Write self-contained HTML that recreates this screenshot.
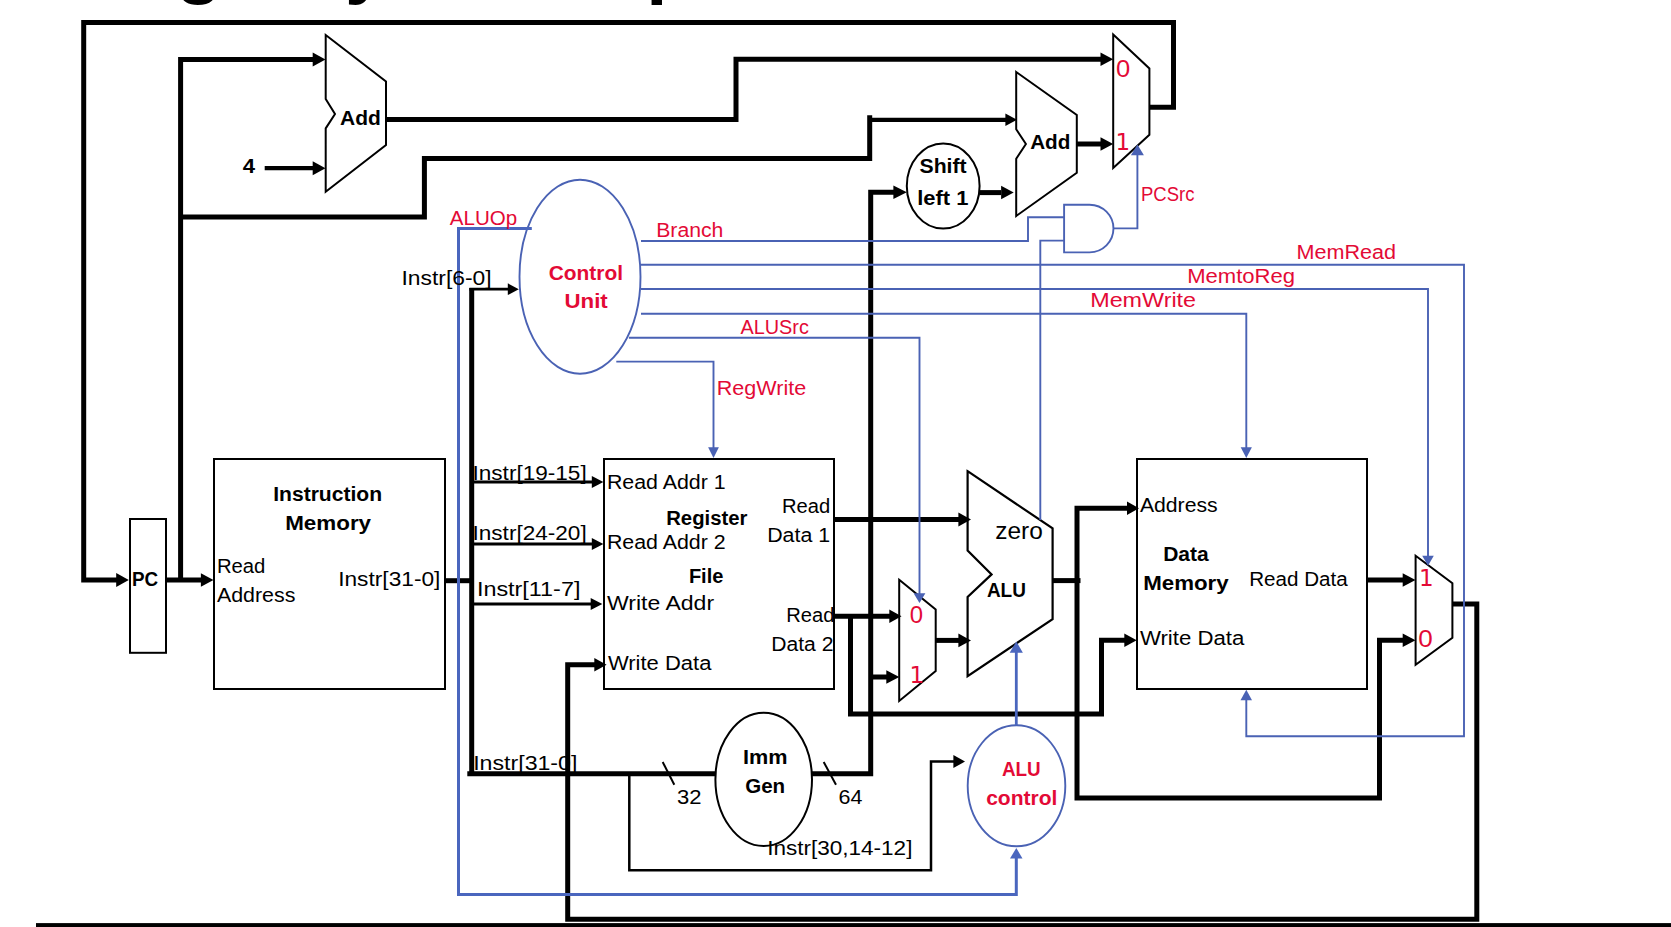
<!DOCTYPE html>
<html lang="en"><head><meta charset="utf-8"><title>Single Cycle Datapath</title>
<style>
html,body{margin:0;padding:0;background:#fff;}
body{width:1671px;height:927px;overflow:hidden;}
svg{display:block;font-family:"Liberation Sans",sans-serif;}
</style></head><body>
<svg width="1671" height="927" viewBox="0 0 1671 927">
<rect width="1671" height="927" fill="#fff"/>
<rect x="130.0" y="519.0" width="36.0" height="133.8" fill="#fff" stroke="#000" stroke-width="2"/>
<rect x="214.0" y="459.0" width="231.0" height="230.0" fill="#fff" stroke="#000" stroke-width="2"/>
<rect x="604.0" y="459.0" width="230.0" height="230.0" fill="#fff" stroke="#000" stroke-width="2"/>
<rect x="1137.0" y="459.0" width="230.0" height="230.0" fill="#fff" stroke="#000" stroke-width="2"/>
<polygon points="325.7,35.0 386.0,81.4 386.0,145.0 325.7,191.7 325.7,128.4 335.0,114.0 325.7,98.9" fill="#fff" stroke="#000" stroke-width="2.0" stroke-linejoin="miter"/>
<polygon points="1016.2,72.0 1076.8,115.0 1076.8,172.8 1016.2,216.0 1016.2,158.7 1025.9,144.0 1016.2,129.2" fill="#fff" stroke="#000" stroke-width="2.0" stroke-linejoin="miter"/>
<polygon points="967.6,471.2 1052.6,528.4 1052.6,619.1 967.6,676.2 967.6,597.0 991.6,574.4 967.6,550.6" fill="#fff" stroke="#000" stroke-width="2.2" stroke-linejoin="miter"/>
<polygon points="1113.2,34.5 1149.4,68.4 1149.4,134.8 1113.2,168.0" fill="#fff" stroke="#000" stroke-width="2.0" stroke-linejoin="miter"/>
<polygon points="899.2,579.8 935.7,609.5 935.7,671.0 899.2,701.0" fill="#fff" stroke="#000" stroke-width="2.0" stroke-linejoin="miter"/>
<polygon points="1415.6,555.8 1452.4,583.3 1452.4,637.7 1415.6,664.7" fill="#fff" stroke="#000" stroke-width="2.0" stroke-linejoin="miter"/>
<ellipse cx="943.2" cy="186.0" rx="36.4" ry="42.6" fill="#fff" stroke="#000" stroke-width="2.0"/>
<ellipse cx="763.7" cy="779.4" rx="48.3" ry="66.6" fill="#fff" stroke="#000" stroke-width="2.0"/>
<ellipse cx="580.0" cy="276.7" rx="60.5" ry="97.0" fill="#fff" stroke="#4A62B4" stroke-width="1.9"/>
<ellipse cx="1016.5" cy="785.8" rx="48.8" ry="60.5" fill="#fff" stroke="#4A62B4" stroke-width="1.9"/>
<path d="M1064.1,204.7 H1089.6 A23.85,23.85 0 0 1 1089.6,252.4 H1064.1 Z" fill="#fff" stroke="#4A62B4" stroke-width="1.9"/>
<polyline points="1149.5,107.3 1173.5,107.3 1173.5,22.5 83.7,22.5 83.7,580.0 117.0,580.0" fill="none" stroke="#000" stroke-width="5" />
<polygon points="128.8,580.0 116.2,573.1 116.2,586.9" fill="#000"/>
<polyline points="166.0,580.0 202.0,580.0" fill="none" stroke="#000" stroke-width="5" />
<polygon points="213.5,580.0 200.9,573.3 200.9,586.7" fill="#000"/>
<polyline points="180.6,580.0 180.6,59.5 313.0,59.5" fill="none" stroke="#000" stroke-width="5" />
<polygon points="325.5,59.5 312.7,52.5 312.7,66.5" fill="#000"/>
<polyline points="180.6,217.1 424.4,217.1 424.4,158.4 869.7,158.4 869.7,115.2" fill="none" stroke="#000" stroke-width="5" />
<polyline points="869.7,119.8 1006.0,119.8" fill="none" stroke="#000" stroke-width="4.2" />
<polygon points="1017.0,119.8 1005.4,113.5 1005.4,126.1" fill="#000"/>
<polyline points="264.7,168.2 313.0,168.2" fill="none" stroke="#000" stroke-width="4.2" />
<polygon points="325.5,168.2 312.7,161.2 312.7,175.2" fill="#000"/>
<polyline points="386.0,119.6 736.0,119.6 736.0,59.2 1101.0,59.2" fill="none" stroke="#000" stroke-width="5" />
<polygon points="1113.2,59.2 1100.5,52.5 1100.5,66.0" fill="#000"/>
<polyline points="1077.0,144.0 1101.0,144.0" fill="none" stroke="#000" stroke-width="5" />
<polygon points="1113.2,144.0 1100.5,137.2 1100.5,150.8" fill="#000"/>
<polyline points="812.0,773.7 870.7,773.7 870.7,192.3 894.0,192.3" fill="none" stroke="#000" stroke-width="5" />
<polygon points="906.8,192.3 893.4,185.6 893.4,199.1" fill="#000"/>
<polyline points="979.6,192.6 1001.0,192.6" fill="none" stroke="#000" stroke-width="5" />
<polygon points="1013.7,192.6 1001.1,185.8 1001.1,199.3" fill="#000"/>
<polyline points="445.7,580.7 471.7,580.7" fill="none" stroke="#000" stroke-width="5" />
<polyline points="471.7,288.0 471.7,776.0" fill="none" stroke="#000" stroke-width="5" />
<polyline points="467.3,773.7 715.3,773.7" fill="none" stroke="#000" stroke-width="5" />
<polyline points="469.4,289.2 508.0,289.2" fill="none" stroke="#000" stroke-width="2.8" />
<polygon points="518.8,289.2 507.8,283.3 507.8,295.1" fill="#000"/>
<polyline points="471.7,482.1 592.4,482.1" fill="none" stroke="#000" stroke-width="3" />
<polygon points="603.4,482.1 591.8,476.1 591.8,488.1" fill="#000"/>
<polyline points="471.7,544.0 592.4,544.0" fill="none" stroke="#000" stroke-width="3" />
<polygon points="603.4,544.0 591.8,538.0 591.8,550.0" fill="#000"/>
<polyline points="471.7,604.1 591.3,604.1" fill="none" stroke="#000" stroke-width="3" />
<polygon points="602.3,604.1 590.7,598.1 590.7,610.1" fill="#000"/>
<polyline points="834.3,519.5 959.0,519.5" fill="none" stroke="#000" stroke-width="5" />
<polygon points="971.0,519.5 958.4,512.6 958.4,526.4" fill="#000"/>
<polyline points="834.3,616.2 890.0,616.2" fill="none" stroke="#000" stroke-width="5" />
<polygon points="901.5,616.2 889.3,609.4 889.3,623.1" fill="#000"/>
<polyline points="850.5,616.2 850.5,713.9 1101.5,713.9 1101.5,640.3 1125.0,640.3" fill="none" stroke="#000" stroke-width="5" />
<polygon points="1136.7,640.3 1124.3,633.5 1124.3,647.0" fill="#000"/>
<polyline points="870.7,677.0 887.0,677.0" fill="none" stroke="#000" stroke-width="5" />
<polygon points="899.3,677.0 886.3,670.2 886.3,683.8" fill="#000"/>
<polyline points="935.6,640.4 959.0,640.4" fill="none" stroke="#000" stroke-width="5" />
<polygon points="971.0,640.4 958.4,633.5 958.4,647.2" fill="#000"/>
<polyline points="1052.6,580.6 1080.5,580.6" fill="none" stroke="#000" stroke-width="5" />
<polyline points="1128.0,508.3 1077.0,508.3 1077.0,798.0 1379.5,798.0 1379.5,640.3 1403.0,640.3" fill="none" stroke="#000" stroke-width="5" />
<polygon points="1139.0,508.3 1127.0,501.6 1127.0,515.0" fill="#000"/>
<polygon points="1415.5,640.3 1402.7,633.5 1402.7,647.0" fill="#000"/>
<polyline points="1367.5,580.0 1403.0,580.0" fill="none" stroke="#000" stroke-width="5" />
<polygon points="1415.5,580.0 1402.7,573.2 1402.7,586.8" fill="#000"/>
<polyline points="1452.4,604.0 1476.8,604.0 1476.8,919.2 567.7,919.2 567.7,664.7 595.0,664.7" fill="none" stroke="#000" stroke-width="5" />
<polygon points="606.6,664.7 594.3,658.0 594.3,671.5" fill="#000"/>
<rect x="36" y="923.1" width="1635" height="4" fill="#000"/>
<polyline points="629.3,773.7 629.3,870.3 931.0,870.3 931.0,761.6 954.0,761.6" fill="none" stroke="#000" stroke-width="2.5" />
<polygon points="965.0,761.6 953.4,755.1 953.4,768.1" fill="#000"/>
<polyline points="662.7,762.0 674.3,784.7" fill="none" stroke="#000" stroke-width="2" />
<polyline points="823.7,762.0 836.0,784.7" fill="none" stroke="#000" stroke-width="2" />
<polyline points="531.8,228.4 458.5,228.4 458.5,894.5 1016.3,894.5 1016.3,858.0" fill="none" stroke="#4A66BE" stroke-width="3" />
<polygon points="1016.3,848.0 1010.0,858.5 1022.5,858.5" fill="#4A66BE"/>
<polyline points="1016.3,725.3 1016.3,652.0" fill="none" stroke="#4A66BE" stroke-width="2.8" />
<polygon points="1016.3,641.6 1009.7,652.8 1022.9,652.8" fill="#4A66BE"/>
<polyline points="641.0,241.0 1028.0,241.0 1028.0,217.3 1064.1,217.3" fill="none" stroke="#4A62B4" stroke-width="1.9" />
<polyline points="1040.3,520.0 1040.3,240.6 1064.1,240.6" fill="none" stroke="#4A62B4" stroke-width="1.9" />
<polyline points="1113.5,228.4 1137.4,228.4 1137.4,155.0" fill="none" stroke="#4A62B4" stroke-width="1.9" />
<polygon points="1137.4,144.6 1130.9,155.3 1143.9,155.3" fill="#4A62B4"/>
<polyline points="641.0,264.8 1464.0,264.8 1464.0,736.3 1246.3,736.3 1246.3,700.0" fill="none" stroke="#4A62B4" stroke-width="1.9" />
<polygon points="1246.3,689.7 1240.5,700.3 1252.0,700.3" fill="#4A62B4"/>
<polyline points="641.0,289.0 1428.0,289.0 1428.0,556.0" fill="none" stroke="#4A62B4" stroke-width="1.9" />
<polygon points="1428.0,565.7 1422.2,555.7 1433.8,555.7" fill="#4A62B4"/>
<polyline points="641.0,313.7 1246.3,313.7 1246.3,448.0" fill="none" stroke="#4A62B4" stroke-width="1.9" />
<polygon points="1246.3,458.0 1240.7,447.3 1251.9,447.3" fill="#4A62B4"/>
<polyline points="628.9,337.8 919.5,337.8 919.5,594.0" fill="none" stroke="#4A62B4" stroke-width="1.9" />
<polygon points="919.5,603.0 913.6,593.3 925.4,593.3" fill="#4A62B4"/>
<polyline points="616.3,361.6 713.5,361.6 713.5,448.0" fill="none" stroke="#4A62B4" stroke-width="1.9" />
<polygon points="713.5,458.0 708.1,447.3 718.9,447.3" fill="#4A62B4"/>
<text x="242.8" y="173.0" font-size="20" fill="#000" font-weight="bold" textLength="12.3" lengthAdjust="spacingAndGlyphs">4</text>
<text x="340.0" y="124.7" font-size="20" fill="#000" font-weight="bold" textLength="40.8" lengthAdjust="spacingAndGlyphs">Add</text>
<text x="1030.2" y="149.3" font-size="20" fill="#000" font-weight="bold" textLength="40.2" lengthAdjust="spacingAndGlyphs">Add</text>
<text x="919.5" y="172.6" font-size="20" fill="#000" font-weight="bold" textLength="47.1" lengthAdjust="spacingAndGlyphs">Shift</text>
<text x="917.2" y="205.0" font-size="20" fill="#000" font-weight="bold" textLength="51.2" lengthAdjust="spacingAndGlyphs">left 1</text>
<text x="449.8" y="224.8" font-size="20" fill="#E30A36" textLength="67.4" lengthAdjust="spacingAndGlyphs">ALUOp</text>
<text x="401.5" y="285.2" font-size="20" fill="#000" textLength="90.1" lengthAdjust="spacingAndGlyphs">Instr[6-0]</text>
<text x="548.8" y="279.6" font-size="20" fill="#E30A36" font-weight="bold" textLength="74.2" lengthAdjust="spacingAndGlyphs">Control</text>
<text x="564.5" y="307.6" font-size="20" fill="#E30A36" font-weight="bold" textLength="43.3" lengthAdjust="spacingAndGlyphs">Unit</text>
<text x="656.2" y="237.0" font-size="20" fill="#E30A36" textLength="67.2" lengthAdjust="spacingAndGlyphs">Branch</text>
<text x="1141.0" y="200.5" font-size="20" fill="#E30A36" textLength="53.4" lengthAdjust="spacingAndGlyphs">PCSrc</text>
<text x="1296.5" y="258.7" font-size="20" fill="#E30A36" textLength="99.6" lengthAdjust="spacingAndGlyphs">MemRead</text>
<text x="1187.2" y="282.7" font-size="20" fill="#E30A36" textLength="107.9" lengthAdjust="spacingAndGlyphs">MemtoReg</text>
<text x="1090.2" y="306.7" font-size="20" fill="#E30A36" textLength="105.9" lengthAdjust="spacingAndGlyphs">MemWrite</text>
<text x="740.5" y="334.0" font-size="20" fill="#E30A36" textLength="68.4" lengthAdjust="spacingAndGlyphs">ALUSrc</text>
<text x="716.8" y="394.6" font-size="20" fill="#E30A36" textLength="89.4" lengthAdjust="spacingAndGlyphs">RegWrite</text>
<text x="131.9" y="585.7" font-size="20" fill="#000" font-weight="bold" textLength="26.2" lengthAdjust="spacingAndGlyphs">PC</text>
<text x="273.2" y="500.7" font-size="20" fill="#000" font-weight="bold" textLength="108.9" lengthAdjust="spacingAndGlyphs">Instruction</text>
<text x="285.2" y="529.7" font-size="20" fill="#000" font-weight="bold" textLength="85.9" lengthAdjust="spacingAndGlyphs">Memory</text>
<text x="216.9" y="573.3" font-size="20" fill="#000" textLength="48.5" lengthAdjust="spacingAndGlyphs">Read</text>
<text x="216.9" y="602.3" font-size="20" fill="#000" textLength="78.5" lengthAdjust="spacingAndGlyphs">Address</text>
<text x="338.2" y="585.7" font-size="20" fill="#000" textLength="102.2" lengthAdjust="spacingAndGlyphs">Instr[31-0]</text>
<text x="472.5" y="479.7" font-size="20" fill="#000" textLength="114.2" lengthAdjust="spacingAndGlyphs">Instr[19-15]</text>
<text x="472.5" y="540.0" font-size="20" fill="#000" textLength="114.2" lengthAdjust="spacingAndGlyphs">Instr[24-20]</text>
<text x="476.9" y="595.7" font-size="20" fill="#000" textLength="103.5" lengthAdjust="spacingAndGlyphs">Instr[11-7]</text>
<text x="606.9" y="489.0" font-size="20" fill="#000" textLength="118.8" lengthAdjust="spacingAndGlyphs">Read Addr 1</text>
<text x="666.2" y="525.0" font-size="20" fill="#000" font-weight="bold" textLength="81.2" lengthAdjust="spacingAndGlyphs">Register</text>
<text x="606.9" y="549.0" font-size="20" fill="#000" textLength="118.8" lengthAdjust="spacingAndGlyphs">Read Addr 2</text>
<text x="688.9" y="583.0" font-size="20" fill="#000" font-weight="bold" textLength="34.5" lengthAdjust="spacingAndGlyphs">File</text>
<text x="606.9" y="609.7" font-size="20" fill="#000" textLength="107.2" lengthAdjust="spacingAndGlyphs">Write Addr</text>
<text x="607.9" y="669.7" font-size="20" fill="#000" textLength="103.5" lengthAdjust="spacingAndGlyphs">Write Data</text>
<text x="781.9" y="513.0" font-size="20" fill="#000" textLength="48.2" lengthAdjust="spacingAndGlyphs">Read</text>
<text x="767.2" y="541.7" font-size="20" fill="#000" textLength="62.9" lengthAdjust="spacingAndGlyphs">Data 1</text>
<text x="786.2" y="622.0" font-size="20" fill="#000" textLength="48.2" lengthAdjust="spacingAndGlyphs">Read</text>
<text x="771.2" y="650.7" font-size="20" fill="#000" textLength="62.2" lengthAdjust="spacingAndGlyphs">Data 2</text>
<text x="995.2" y="539.4" font-size="24.5" fill="#000" textLength="47.6" lengthAdjust="spacingAndGlyphs">zero</text>
<text x="986.9" y="596.6" font-size="20" fill="#000" font-weight="bold" textLength="39.0" lengthAdjust="spacingAndGlyphs">ALU</text>
<text x="909.7" y="622.7" font-size="23" fill="#E30A36" textLength="13.3" lengthAdjust="spacingAndGlyphs">0</text>
<text x="909.5" y="683.4" font-size="23" fill="#E30A36" font-family="'DejaVu Sans','Liberation Sans',sans-serif">1</text>
<text x="1115.9" y="77.4" font-size="23" fill="#E30A36" textLength="14.2" lengthAdjust="spacingAndGlyphs">0</text>
<text x="1115.4" y="150.2" font-size="23" fill="#E30A36" font-family="'DejaVu Sans','Liberation Sans',sans-serif">1</text>
<text x="1418.9" y="586.3" font-size="23" fill="#E30A36" font-family="'DejaVu Sans','Liberation Sans',sans-serif">1</text>
<text x="1418.2" y="647.3" font-size="23" fill="#E30A36" textLength="14.5" lengthAdjust="spacingAndGlyphs">0</text>
<text x="1139.9" y="512.3" font-size="20" fill="#000" textLength="77.8" lengthAdjust="spacingAndGlyphs">Address</text>
<text x="1163.2" y="560.7" font-size="20" fill="#000" font-weight="bold" textLength="45.5" lengthAdjust="spacingAndGlyphs">Data</text>
<text x="1143.2" y="590.0" font-size="20" fill="#000" font-weight="bold" textLength="85.5" lengthAdjust="spacingAndGlyphs">Memory</text>
<text x="1249.2" y="585.7" font-size="20" fill="#000" textLength="98.5" lengthAdjust="spacingAndGlyphs">Read Data</text>
<text x="1139.9" y="645.3" font-size="20" fill="#000" textLength="104.5" lengthAdjust="spacingAndGlyphs">Write Data</text>
<text x="473.2" y="769.7" font-size="20" fill="#000" textLength="104.2" lengthAdjust="spacingAndGlyphs">Instr[31-0]</text>
<text x="742.9" y="763.7" font-size="20" fill="#000" font-weight="bold" textLength="44.5" lengthAdjust="spacingAndGlyphs">Imm</text>
<text x="745.2" y="793.2" font-size="20" fill="#000" font-weight="bold" textLength="39.9" lengthAdjust="spacingAndGlyphs">Gen</text>
<text x="676.9" y="804.0" font-size="20" fill="#000" textLength="24.5" lengthAdjust="spacingAndGlyphs">32</text>
<text x="838.5" y="804.0" font-size="20" fill="#000" textLength="23.9" lengthAdjust="spacingAndGlyphs">64</text>
<text x="767.2" y="855.3" font-size="20" fill="#000" textLength="145.2" lengthAdjust="spacingAndGlyphs">Instr[30,14-12]</text>
<text x="1001.9" y="776.3" font-size="20" fill="#E30A36" font-weight="bold" textLength="38.8" lengthAdjust="spacingAndGlyphs">ALU</text>
<text x="986.2" y="805.3" font-size="20" fill="#E30A36" font-weight="bold" textLength="71.2" lengthAdjust="spacingAndGlyphs">control</text>
<text x="57.5" y="-11" font-size="76" font-weight="bold" fill="#000">Single</text>
<text x="290" y="-11" font-size="76" font-weight="bold" fill="#000">Cycle</text>
<text x="481.5" y="-11" font-size="76" font-weight="bold" fill="#000">Datapath</text>
</svg>
</body></html>
